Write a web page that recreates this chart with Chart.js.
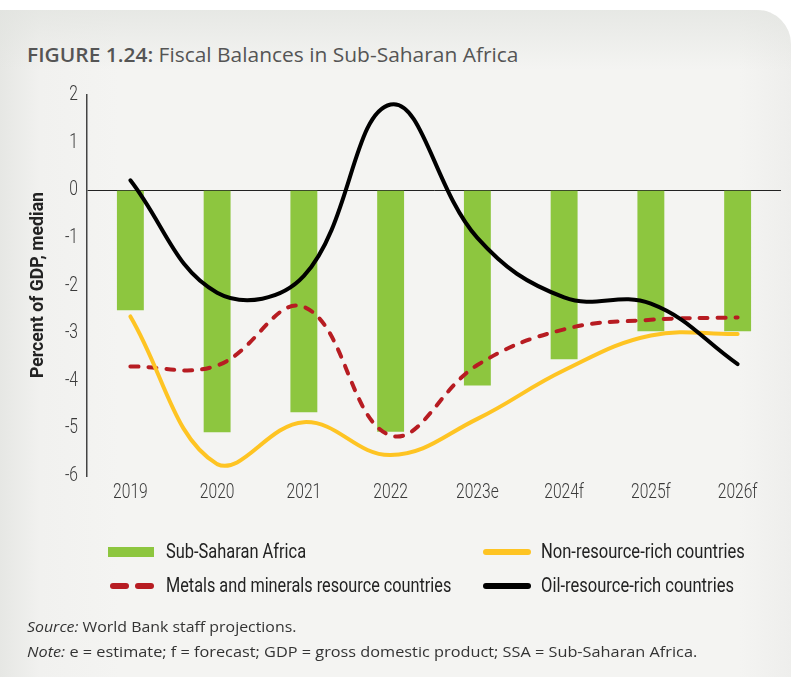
<!DOCTYPE html>
<html>
<head>
<meta charset="utf-8">
<script src="https://cdn.jsdelivr.net/npm/chart.js@4.4.1/dist/chart.umd.min.js"></script>
<style>
  body { margin: 0; width: 791px; height: 677px; overflow: hidden; position: relative; background: #fff; font-family: "Open Sans", Lato, sans-serif; }
  #panel { position: absolute; left: 0; top: 10px; width: 791px; height: 667px; border-top-right-radius: 34px;
    background: linear-gradient(to right, #e6e7e4 0px, #f1f1ef 40px, #f4f4f2 120px, #f4f4f2 740px, #eeeeec 791px); }
  #panel:before { content: ""; position: absolute; left: 0; top: 0; right: 0; height: 60px; border-top-right-radius: 34px;
    background: linear-gradient(to bottom, rgba(225,227,223,0.7), rgba(244,244,242,0)); }
  .fit { position: absolute; white-space: nowrap; transform-origin: 0 50%; }
  #title { left: 27px; top: 42px; font-size: 20px; line-height: 26px; color: #555; }
  #title b { font-weight: 600; }
  canvas { position: absolute; left: 0; top: 0; }
  .leg { font-family: Roboto, sans-serif; font-size: 21px; color: #222; line-height: 24px; }
  .sw { position: absolute; }
  .foot { left: 27px; font-size: 15px; line-height: 20px; color: #333; }
</style>
</head>
<body>
<div id="panel"></div>
<div id="title" class="fit" data-w="491"><b>FIGURE 1.24:</b> Fiscal Balances in Sub-Saharan Africa</div>
<canvas id="chart" width="791" height="677"></canvas>
<div id="legend"></div>
<div class="foot fit" style="top:616px" data-w="269"><i>Source:</i> World Bank staff projections.</div>
<div class="foot fit" style="top:641px" data-w="670"><i>Note:</i> e = estimate; f = forecast; GDP = gross domestic product; SSA = Sub-Saharan Africa.</div>
<script>
const years = ['2019', '2020', '2021', '2022', '2023e', '2024f', '2025f', '2026f'];
const ssa = [-2.52, -5.08, -4.66, -5.07, -4.1, -3.55, -2.96, -2.96];
const nonResource = [-2.65, -5.75, -4.87, -5.56, -4.8, -3.78, -3.05, -3.02];
const metals = [-3.7, -3.68, -2.45, -5.15, -3.67, -2.92, -2.72, -2.67];
const oil = [0.21, -2.15, -1.8, 1.8, -1.0, -2.25, -2.38, -3.65];
const names = ['Sub-Saharan Africa', 'Non-resource-rich countries', 'Metals and minerals resource countries', 'Oil-resource-rich countries'];
const yTitle = 'Percent of GDP, median';

// no condensed face installed, so squeeze Roboto horizontally
const COND = 0.78;

const condensedLabels = {
  id: 'condensedLabels',
  afterDraw(chart) {
    const c = chart.ctx;
    const xs = chart.scales.x, ys = chart.scales.y;
    c.save();
    c.fillStyle = '#3a3a3a';
    c.font = '300 20px Roboto';
    c.textBaseline = 'middle';
    c.textAlign = 'center';
    xs.ticks.forEach((t, i) => {
      c.save();
      c.translate(xs.getPixelForTick(i), 493);
      c.scale(COND, 1);
      c.fillText(t.label, 0, 0);
      c.restore();
    });
    c.textAlign = 'right';
    ys.ticks.forEach((t, i) => {
      c.save();
      c.translate(78, ys.getPixelForTick(i));
      c.scale(COND, 1);
      c.fillText(t.label, 0, 0);
      c.restore();
    });
    c.fillStyle = '#222';
    c.font = 'bold 19px Roboto';
    c.textAlign = 'center';
    c.translate(38, 285);
    c.rotate(-Math.PI / 2);
    c.scale(186 / c.measureText(yTitle).width, 1);
    c.fillText(yTitle, 0, 0);
    c.restore();
  }
};

const ctx = document.getElementById('chart').getContext('2d');
const chart = new Chart(ctx, {
  data: {
    labels: years,
    datasets: [
      { type: 'bar', label: names[0], data: ssa, backgroundColor: '#8dc63f', categoryPercentage: 1, barPercentage: 0.31, order: 10 },
      { type: 'line', label: names[1], data: nonResource, borderColor: '#fec423', borderWidth: 4, tension: 0.4, pointRadius: 0, borderCapStyle: 'round', order: 2 },
      { type: 'line', label: names[2], data: metals, borderColor: '#b71c22', borderWidth: 4, tension: 0.4, pointRadius: 0, borderDash: [8, 10], borderCapStyle: 'round', order: 3 },
      { type: 'line', label: names[3], data: oil, borderColor: '#000', borderWidth: 4, tension: 0.4, pointRadius: 0, borderCapStyle: 'round', order: 1 }
    ]
  },
  options: {
    responsive: false,
    animation: false,
    layout: { padding: { left: 0, right: 10, top: 95, bottom: 0 } },
    plugins: { legend: { display: false }, tooltip: { enabled: false } },
    scales: {
      x: {
        grid: { display: false },
        border: { display: false },
        ticks: { display: false },
        afterFit: s => { s.height = 677 - 476; }
      },
      y: {
        min: -6, max: 2,
        ticks: { stepSize: 1, display: false },
        grid: { drawTicks: false, color: c => c.tick.value === 0 ? '#222' : 'rgba(0,0,0,0)', lineWidth: 1 },
        border: { display: true, color: '#444', width: 1.5 },
        afterFit: s => { s.width = 87; }
      }
    }
  },
  plugins: [condensedLabels]
});

// legend built from the dataset names/colours
const leg = document.getElementById('legend');
const items = [
  { i: 0, x: 108, y: 552, kind: 'bar', w: 140 },
  { i: 1, x: 483, y: 552, kind: 'line', w: 204 },
  { i: 2, x: 108, y: 586, kind: 'dash', w: 285 },
  { i: 3, x: 483, y: 586, kind: 'line', w: 193 }
];
items.forEach(it => {
  const ds = chart.data.datasets[it.i];
  const col = ds.type === 'bar' ? ds.backgroundColor : ds.borderColor;
  if (it.kind === 'bar') {
    leg.insertAdjacentHTML('beforeend', `<div class="sw" style="left:${it.x}px;top:${it.y - 5}px;width:46px;height:10px;background:${col}"></div>`);
  } else if (it.kind === 'line') {
    leg.insertAdjacentHTML('beforeend', `<div class="sw" style="left:${it.x}px;top:${it.y - 3}px;width:48px;height:6px;border-radius:3px;background:${col}"></div>`);
  } else {
    leg.insertAdjacentHTML('beforeend', `<div class="sw" style="left:${it.x + 2}px;top:${it.y - 3}px;width:19px;height:6px;border-radius:3px;background:${col}"></div>`);
    leg.insertAdjacentHTML('beforeend', `<div class="sw" style="left:${it.x + 27}px;top:${it.y - 3}px;width:19px;height:6px;border-radius:3px;background:${col}"></div>`);
  }
  leg.insertAdjacentHTML('beforeend', `<div class="leg fit" data-w="${it.w}" style="left:${it.x + 58}px;top:${it.y - 13}px">${ds.label}</div>`);
});

// squeeze/stretch html text to the widths measured on the reference
document.querySelectorAll('.fit').forEach(el => {
  el.style.transform = `scaleX(${el.dataset.w / el.offsetWidth})`;
});
</script>
</body>
</html>
